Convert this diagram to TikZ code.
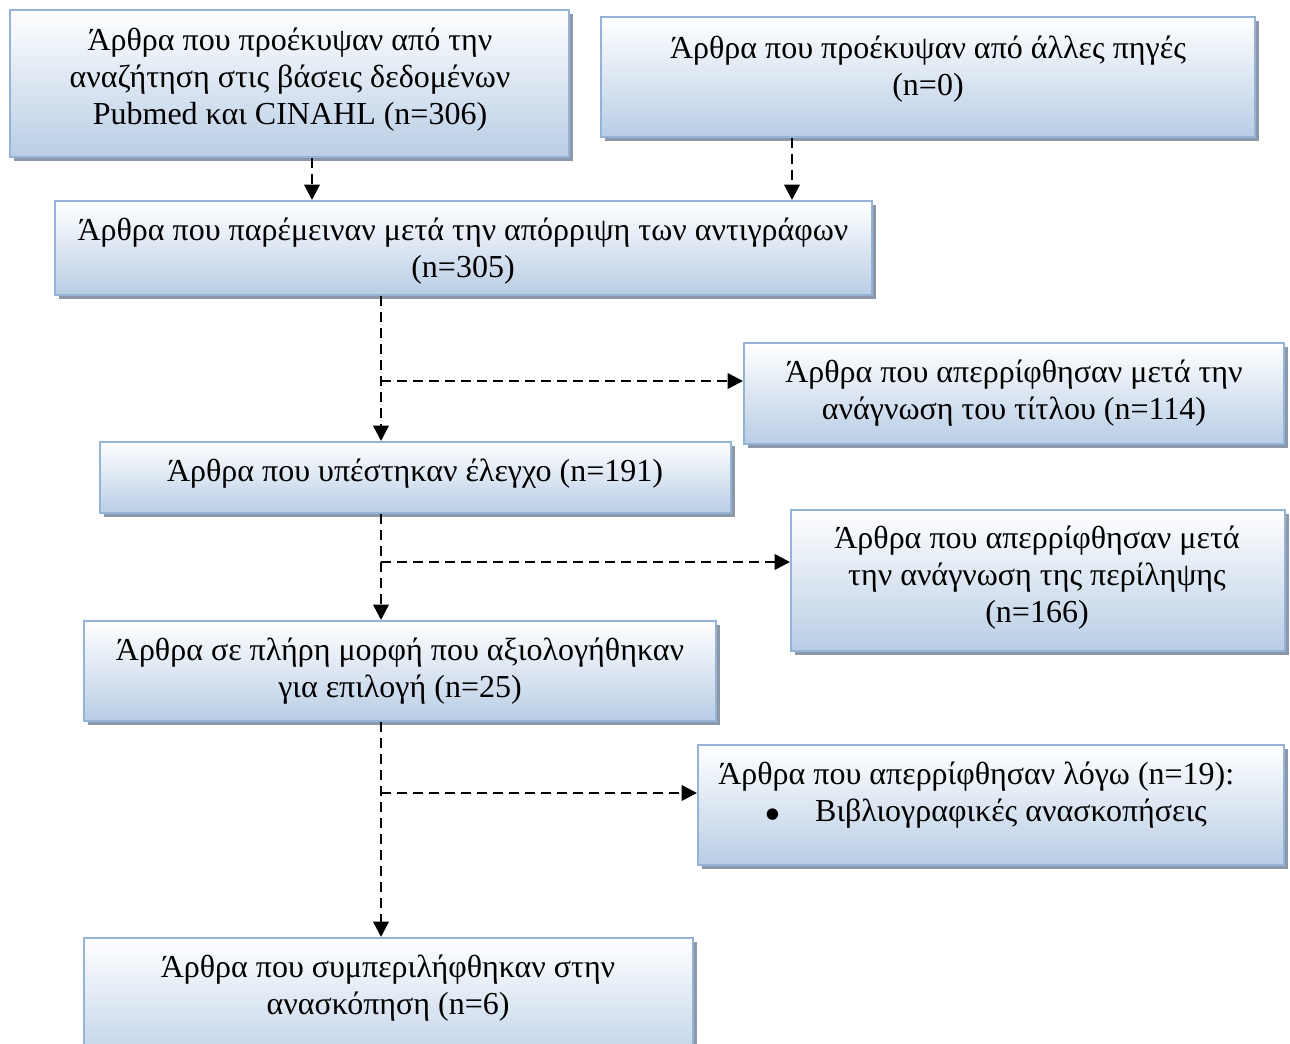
\documentclass[tikz,border=0pt]{standalone}
\usepackage{fontspec}
\usepackage{graphicx}
\setmainfont{Liberation Serif}
\usetikzlibrary{arrows.meta,shadows,fit}
\definecolor{boxborder}{RGB}{149,179,215}
\definecolor{boxfill}{RGB}{185,205,229}
\definecolor{boxshadow}{RGB}{140,152,168}
\tikzset{
 box/.style={draw=boxborder, line width=1.5pt, top color=white, bottom color=boxfill,
   inner sep=0pt, drop shadow={shadow xshift=3pt, shadow yshift=-3pt, fill=boxshadow, opacity=1}},
 txt/.style={align=center, font=\fontsize{24}{27.75}\selectfont, inner sep=0pt},
 flow/.style={draw=black, line width=1.9pt, dash pattern=on 7.5pt off 4.5pt,
   -{Triangle[length=11.5pt,width=11.5pt]}},
}
\begin{document}
\begin{tikzpicture}[x=0.75pt,y=-0.75pt]
\clip (0,0) rectangle (1290,1044);
\fill[white] (0,0) rectangle (1290,1044);
% boxes
\node[box, fit={(10,10) (569,157)}] (b1) {};
\node[box, fit={(601,17) (1255,137)}] (b2) {};
\node[box, fit={(55,201) (872,295)}] (b3) {};
\node[box, fit={(744,343) (1284,444)}] (b4) {};
\node[box, fit={(100,442) (731,513)}] (b5) {};
\node[box, fit={(791,510) (1285,651)}] (b6) {};
\node[box, fit={(84,621) (716,721)}] (b7) {};
\node[box, fit={(698,745) (1284,865)}] (b8) {};
\node[box, fit={(84,938) (693,1075)}] (b9) {};
% texts
\node[txt] (t1) at (290,80) {Άρθρα που προέκυψαν από την\\αναζήτηση στις βάσεις δεδομένων\\Pubmed και CINAHL (n=306)};
\node[txt] (t2) at (928,69) {Άρθρα που προέκυψαν από άλλες πηγές\\(n=0)};
\node[txt] (t3) at (463,251) {Άρθρα που παρέμειναν μετά την απόρριψη των αντιγράφων\\(n=305)};
\node[txt] (t4) at (1014,393) {Άρθρα που απερρίφθησαν μετά την\\ανάγνωση του τίτλου (n=114)};
\node[txt] (t5) at (415,474) {Άρθρα που υπέστηκαν έλεγχο (n=191)};
\node[txt] (t6) at (1037,578) {Άρθρα που απερρίφθησαν μετά\\την ανάγνωση της περίληψης\\(n=166)};
\node[txt] (t7) at (400,671) {Άρθρα σε πλήρη μορφή που αξιολογήθηκαν\\για επιλογή (n=25)};
\node[txt, align=left, anchor=west] (t8) at (718,796) {Άρθρα που απερρίφθησαν λόγω (n=19):\\\hspace*{34.7pt}\raisebox{-6.5pt}{\scalebox{1.5}{•}}\hspace*{25.4pt}Βιβλιογραφικές ανασκοπήσεις};
\node[txt] (t9) at (388,988) {Άρθρα που συμπεριλήφθηκαν στην\\ανασκόπηση (n=6)};
% connector columns and junctions
\coordinate (colA) at (312,0);
\coordinate (colB) at (792,0);
\coordinate (colC) at (381,0);
\coordinate (j1) at (381,381);
\coordinate (j2) at (381,562);
\coordinate (j3) at (381,793);
\draw[flow] (b1.south -| colA) -- (b3.north -| colA);
\draw[flow] (b2.south -| colB) -- (b3.north -| colB);
\draw[flow] (b3.south -| colC) -- (b5.north -| colC);
\draw[flow] (j1) -- (j1 -| b4.west);
\draw[flow] (b5.south -| colC) -- (b7.north -| colC);
\draw[flow] (j2) -- (j2 -| b6.west);
\draw[flow] (b7.south -| colC) -- (b9.north -| colC);
\draw[flow] (j3) -- (j3 -| b8.west);
\end{tikzpicture}
\end{document}
